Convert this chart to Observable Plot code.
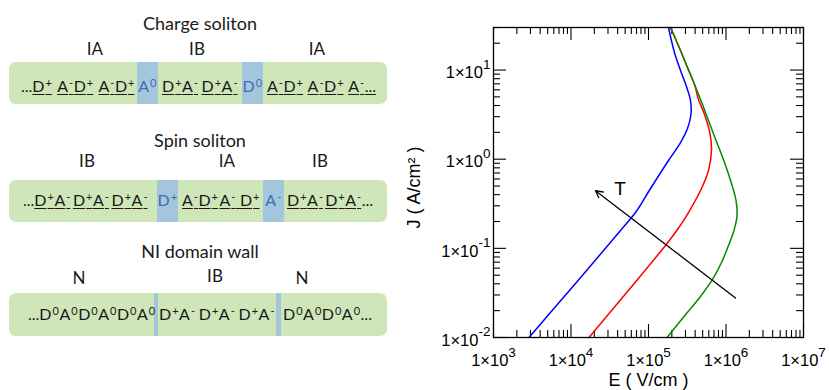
<!DOCTYPE html>
<html><head><meta charset="utf-8">
<script src="https://cdn.jsdelivr.net/npm/d3@7"></script>
<script src="https://cdn.jsdelivr.net/npm/@observablehq/plot@0.6"></script>
<style>
body{margin:0;background:#fff;}
#wrap{position:relative;width:829px;height:390px;background:#fff;overflow:hidden;font-family:Lato,"Open Sans",sans-serif;color:#1a1a1a;}
.title{position:absolute;left:0;width:400px;text-align:center;font-size:18px;line-height:18px;}
.reg{position:absolute;font-size:17px;line-height:17px;transform:translateX(-50%);white-space:nowrap;}
.bar{position:absolute;left:9px;width:378px;background:#cfe6b8;border-radius:7px;}
.blue{position:absolute;background:#a4c6dd;}
.seg{position:absolute;display:flex;justify-content:space-between;font-size:16px;line-height:16px;white-space:nowrap;}
.seg.c{justify-content:center;color:#3c6db0;}
.u{text-decoration:underline;text-decoration-thickness:1px;text-underline-offset:2px;}
.s{font-size:11px;vertical-align:5px;line-height:0;margin:0 0.5px 0 1px;}
#plot{position:absolute;left:400px;top:0;}
</style></head>
<body>
<div id="wrap">
  <!-- Charge soliton -->
  <div class="title" style="top:14px">Charge soliton</div>
  <div class="reg" style="left:95px;top:40px">IA</div>
  <div class="reg" style="left:197px;top:40px">IB</div>
  <div class="reg" style="left:317px;top:40px">IA</div>
  <div class="bar" style="top:62px;height:42px"></div>
  <div class="blue" style="left:137px;width:21px;top:62px;height:42px"></div>
  <div class="blue" style="left:242px;width:21px;top:62px;height:42px"></div>
  <div class="seg" style="left:21px;width:114px;top:78px"><span>...<span class="u">D+</span></span><span class="u">A-D+</span><span class="u">A-D+</span></div>
  <div class="seg c" style="left:137px;width:21px;top:78px"><span>A0</span></div>
  <div class="seg" style="left:162px;width:76px;top:78px"><span class="u">D+A-</span><span class="u">D+A-</span></div>
  <div class="seg c" style="left:242px;width:21px;top:78px"><span>D0</span></div>
  <div class="seg" style="left:267px;width:109px;top:78px"><span class="u">A-D+</span><span class="u">A-D+</span><span class="u">A-...</span></div>

  <!-- Spin soliton -->
  <div class="title" style="top:131px">Spin soliton</div>
  <div class="reg" style="left:87px;top:152px">IB</div>
  <div class="reg" style="left:227px;top:152px">IA</div>
  <div class="reg" style="left:320px;top:152px">IB</div>
  <div class="bar" style="top:180px;height:42px"></div>
  <div class="blue" style="left:157px;width:21px;top:180px;height:42px"></div>
  <div class="blue" style="left:263px;width:21px;top:180px;height:42px"></div>
  <div class="seg" style="left:23px;width:125px;top:192px"><span>...<span class="u">D+A-</span></span><span class="u">D+A-</span><span class="u">D+A-</span></div>
  <div class="seg c" style="left:157px;width:21px;top:192px"><span>D+</span></div>
  <div class="seg" style="left:182px;width:78px;top:192px"><span class="u">A-D+</span><span class="u">A- D+</span></div>
  <div class="seg c" style="left:263px;width:21px;top:192px"><span>A-</span></div>
  <div class="seg" style="left:287px;width:86px;top:192px"><span class="u">D+A-</span><span><span class="u">D+A-</span>...</span></div>

  <!-- NI domain wall -->
  <div class="title" style="top:242px">NI domain wall</div>
  <div class="reg" style="left:79px;top:269px">N</div>
  <div class="reg" style="left:215px;top:267px">IB</div>
  <div class="reg" style="left:302px;top:269px">N</div>
  <div class="bar" style="top:293px;height:43px"></div>
  <div class="blue" style="left:154px;width:4px;top:293px;height:43px"></div>
  <div class="blue" style="left:276px;width:5px;top:293px;height:43px"></div>
  <div class="seg" style="left:28px;width:124px;top:306px"><span>...</span><span>D0</span><span>A0</span><span>D0</span><span>A0</span><span>D0</span><span>A0</span></div>
  <div class="seg" style="left:159px;width:116px;top:306px"><span>D+A-</span><span>D+A-</span><span>D+A-</span></div>
  <div class="seg" style="left:283px;width:85px;top:306px"><span>D0</span><span>A0</span><span>D0</span><span>A0</span><span>...</span></div>

  <div id="plot"></div>
</div>
<script>
// ---- data ----
const blueE = [2871, 11430, 43550, 67920, 106200, 181100, 258800, 318400, 353200, 348400, 309000, 258800, 216300, 181100];
const blueJ = [0.01, 0.0404, 0.1585, 0.2523, 0.4688, 0.9661, 1.538, 2.208, 3.170, 4.550, 6.531, 9.886, 15.74, 30];
const redE  = [17060, 53580, 165600, 236600, 328100, 482700, 594300, 650100, 622300, 528400, 441600, 392600, 318400, 258800, 192300];
const redJ  = [0.01, 0.03281, 0.1076, 0.1626, 0.2523, 0.4688, 0.7464, 1.250, 1.941, 3.170, 4.667, 6.887, 10.66, 16.56, 30];
const greenE = [173400, 309000, 468800, 669900, 875000, 1077000, 1268000, 1387000, 1346000, 1178000, 957200, 711200, 497700, 392600, 318400, 258800, 192300];
const greenJ = [0.01, 0.01858, 0.02884, 0.04477, 0.06934, 0.1076, 0.1585, 0.2333, 0.3443, 0.5333, 0.9183, 1.795, 4.102, 6.887, 10.66, 16.56, 30];
const arrowFrom = {E: 1327000, J: 0.02773};
const arrowTo = {E: 20700, J: 0.4436};
const tLabel = {E: 42850, J: 0.4667, text: "T"};
const xMajor = [1e3, 1e4, 1e5, 1e6, 1e7];
const yMajor = [1e-2, 1e-1, 1e0, 1e1];
const mant = [2, 3, 4, 5, 6, 7, 8, 9];
const xMinor = [1e3, 1e4, 1e5, 1e6].flatMap(d => mant.map(m => m * d));
const yMinor = [1e-2, 1e-1, 1e0].flatMap(d => mant.map(m => m * d)).concat([20, 30]);
const xLabel = "E ( V/cm )";
const yLabel = "J ( A/cm² )";

// chemistry superscripts on the left diagrams
document.querySelectorAll(".seg").forEach(s => {
  s.innerHTML = s.innerHTML.replace(/([A-Z])([+\-0])/g, '$1<span class="s">$2</span>');
});

const SUP = {"-":"⁻","0":"⁰","1":"¹","2":"²","3":"³","4":"⁴","5":"⁵","6":"⁶","7":"⁷","8":"⁸","9":"⁹"};
const INV = Object.fromEntries(Object.entries(SUP).map(([k, v]) => [v, k]));
const fmt = d => "1×10" + String(Math.round(Math.log10(d))).split("").map(c => SUP[c]).join("");

const toRows = (E, J) => E.map((e, i) => ({E: e, J: J[i]}));
const blue = toRows(blueE, blueJ), red = toRows(redE, redJ), green = toRows(greenE, greenJ);

const FW = 310; // frame size in px
const tk = {stroke: "#000", strokeWidth: 1.1};
const plot = Plot.plot({
  width: 429, height: 390,
  marginLeft: 93, marginRight: 26, marginTop: 27, marginBottom: 53,
  style: {fontFamily: "'Liberation Sans', Arial, Helvetica, sans-serif", fontSize: "16.5px", background: "transparent", color: "#000", overflow: "visible"},
  x: {type: "log", domain: [1e3, 1e7]},
  y: {type: "log", domain: [1e-2, 30]},
  marks: [
    Plot.tickX(xMinor, {x: d => d, insetTop: FW - 7, ...tk}),
    Plot.tickX(xMinor, {x: d => d, insetBottom: FW - 7, ...tk}),
    Plot.tickX(xMajor, {x: d => d, insetTop: FW - 13, ...tk}),
    Plot.tickX(xMajor, {x: d => d, insetBottom: FW - 13, ...tk}),
    Plot.tickY(yMinor, {y: d => d, insetRight: FW - 7, ...tk}),
    Plot.tickY(yMinor, {y: d => d, insetLeft: FW - 7, ...tk}),
    Plot.tickY(yMajor, {y: d => d, insetRight: FW - 13, ...tk}),
    Plot.tickY(yMajor, {y: d => d, insetLeft: FW - 13, ...tk}),
    Plot.line(blue, {x: "E", y: "J", stroke: "#0000ff", strokeWidth: 1.5, curve: "catmull-rom"}),
    Plot.line(red, {x: "E", y: "J", stroke: "#ff0000", strokeWidth: 1.5, curve: "catmull-rom"}),
    Plot.line(green, {x: "E", y: "J", stroke: "#008b00", strokeWidth: 1.5, curve: "catmull-rom"}),
    Plot.arrow([{a: arrowFrom, b: arrowTo}], {x1: d => d.a.E, y1: d => d.a.J, x2: d => d.b.E, y2: d => d.b.J, stroke: "#000", strokeWidth: 1.3, headLength: 9, headAngle: 55}),
    Plot.text([tLabel], {x: "E", y: "J", text: "text", fontSize: 19, fill: "#000"}),
    Plot.frame({stroke: "#000", strokeWidth: 1.3}),
    Plot.axisX({anchor: "bottom", ticks: xMajor, tickSize: 0, tickPadding: 17, tickFormat: fmt, label: null}),
    Plot.axisY({anchor: "left", ticks: yMajor, tickSize: 0, tickPadding: 3, tickFormat: fmt, label: null, dy: 3}),
    Plot.text([xLabel], {frameAnchor: "bottom", textAnchor: "middle", lineAnchor: "middle", dy: 43, fontSize: 18, fill: "#000"}),
    Plot.text([yLabel], {frameAnchor: "left", textAnchor: "middle", lineAnchor: "middle", dx: -79, dy: 5, rotate: -90, fontSize: 18, fill: "#000"})
  ]
});

// render exponents as raised tspans
plot.querySelectorAll('g[aria-label$="tick label"] text').forEach(t => {
  const m = t.textContent.match(/^1×10([⁻⁰¹²³⁴⁵⁶⁷⁸⁹]+)$/);
  if (!m) return;
  const exp = m[1].split("").map(c => INV[c]).join("");
  t.textContent = "1×10";
  const ts = document.createElementNS("http://www.w3.org/2000/svg", "tspan");
  ts.setAttribute("dy", "-9.5");
  ts.setAttribute("font-size", "13.5");
  ts.textContent = exp;
  t.appendChild(ts);
});
document.getElementById("plot").appendChild(plot);
</script>
</body></html>
